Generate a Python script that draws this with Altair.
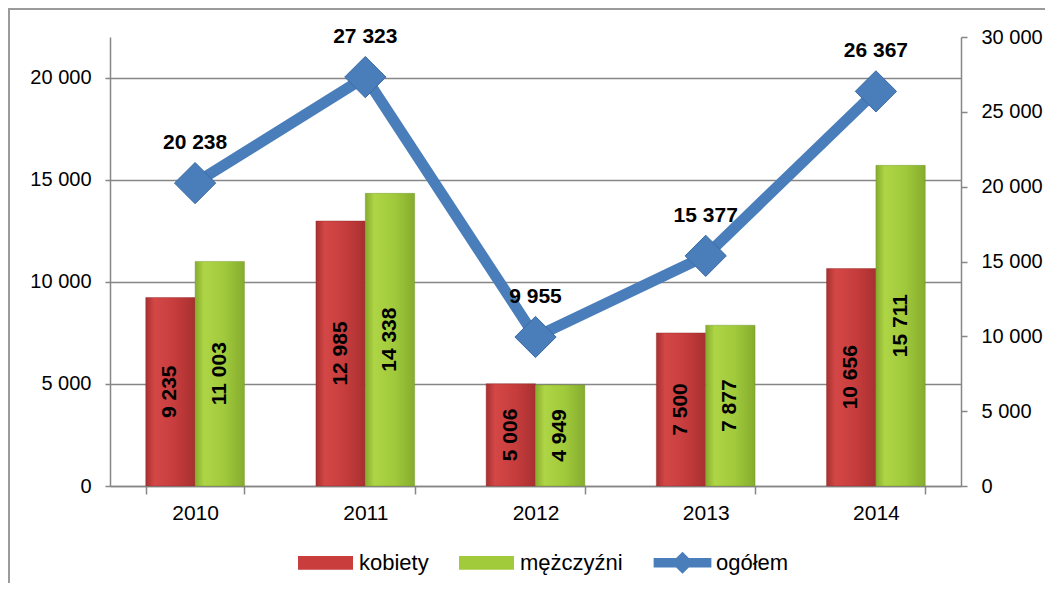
import altair as alt
import pandas as pd

years = ["2010", "2011", "2012", "2013", "2014"]
kobiety = [9235, 12985, 5006, 7500, 10656]
mezczyzni = [11003, 14338, 4949, 7877, 15711]
ogolem = [20238, 27323, 9955, 15377, 26367]
series_names = ["kobiety", "mężczyźni", "ogółem"]
series_colors = ["#C93D3D", "#A2CB3C", "#4A7EBB"]
left_ticks = [0, 5000, 10000, 15000, 20000]
right_ticks = [0, 5000, 10000, 15000, 20000, 25000, 30000]

bars_df = pd.DataFrame(
    [{"year": y, "series": "kobiety", "value": v} for y, v in zip(years, kobiety)]
    + [{"year": y, "series": "mężczyźni", "value": v} for y, v in zip(years, mezczyzni)]
)
bars_df["half"] = bars_df["value"] / 2
tot_df = pd.DataFrame({"year": years, "value": ogolem, "series": "ogółem"})
leg_df = pd.DataFrame({"series": series_names})

FONT = "Liberation Sans"
GRAY = "#868686"

xenc = alt.X("year:N", title=None,
             scale=alt.Scale(paddingInner=0.42, paddingOuter=0.21),
             axis=alt.Axis(labelAngle=0, tickBand="extent", tickSize=8,
                           labelPadding=8, labelFontSize=21))
xoff = alt.XOffset("series:N", scale=alt.Scale(domain=["kobiety", "mężczyźni"], paddingInner=0))
cscale = alt.Scale(domain=series_names, range=series_colors)

yleft_scale = alt.Scale(domain=[0, 22000], nice=False)
yright_scale = alt.Scale(domain=[0, 30000], nice=False)


def grad(edge, mid, light):
    return alt.Gradient(
        gradient="linear", x1=0, x2=1, y1=0, y2=0,
        stops=[alt.GradientStop(color=edge, offset=0),
               alt.GradientStop(color=light, offset=0.18),
               alt.GradientStop(color=mid, offset=0.6),
               alt.GradientStop(color=edge, offset=1)],
    )


red_fill = grad("#A83030", "#C63C3C", "#D44747")
green_fill = grad("#86AC2E", "#A0C93B", "#AED545")

base_bars = alt.Chart(bars_df)
bars_k = base_bars.transform_filter(alt.datum.series == "kobiety").mark_bar(
    fill=red_fill, stroke="#8E2727", strokeWidth=0.8, strokeOpacity=0.5).encode(
    x=xenc,
    xOffset=xoff,
    y=alt.Y("value:Q", scale=yleft_scale, title=None,
            axis=alt.Axis(values=left_ticks, format=",d", grid=True, tickSize=5,
                          labelPadding=14, orient="left")),
)
bars_m = base_bars.transform_filter(alt.datum.series == "mężczyźni").mark_bar(
    fill=green_fill, stroke="#6E8F25", strokeWidth=0.8, strokeOpacity=0.5).encode(
    x=alt.X("year:N"),
    xOffset=xoff,
    y=alt.Y("value:Q", scale=yleft_scale),
)
bar_text = alt.Chart(bars_df).mark_text(angle=270, fontWeight="bold", fontSize=21,
                                        font=FONT, color="black").encode(
    x=alt.X("year:N"),
    xOffset=xoff,
    y=alt.Y("half:Q", scale=yleft_scale),
    text=alt.Text("value:Q", format=",d"),
)
left = alt.layer(bars_k, bars_m, bar_text)

line = alt.Chart(tot_df).mark_line(color="#4A7EBB", strokeWidth=11).encode(
    x=alt.X("year:N"),
    y=alt.Y("value:Q", scale=yright_scale, title=None,
            axis=alt.Axis(values=right_ticks, format=",d", grid=False, tickSize=6,
                          labelPadding=14, orient="right")),
)
pts = alt.Chart(tot_df).mark_point(shape="diamond", filled=True, size=1700, opacity=1,
                                   color="#4A7EBB", stroke="#3B6AA3", strokeWidth=1).encode(
    x=alt.X("year:N"),
    y=alt.Y("value:Q", scale=yright_scale),
)
tot_text = alt.Chart(tot_df).mark_text(dy=-40, fontWeight="bold", fontSize=21,
                                       font=FONT, color="black").encode(
    x=alt.X("year:N"),
    y=alt.Y("value:Q", scale=yright_scale),
    text=alt.Text("value:Q", format=",d"),
)
right = alt.layer(line, pts, tot_text)

bar_path = "M-1,-0.25H1V0.25H-1Z"
line_path = ("M-1.05,-0.17H-0.23L0,-0.4L0.23,-0.17H1.05V0.17H0.23L0,0.4L-0.23,0.17H-1.05Z")
leg_common = dict(title=None, orient="none", legendX=188, legendY=498,
                  direction="horizontal", symbolSize=3025,
                  labelFontSize=22, labelFont=FONT, labelColor="black",
                  labelOffset=6, columnPadding=30, symbolStrokeWidth=0)
legend_layer = alt.Chart(leg_df).mark_point(filled=True, opacity=1).encode(
    color=alt.Color("series:N", scale=cscale, legend=alt.Legend(**leg_common)),
    shape=alt.Shape("series:N", scale=alt.Scale(domain=series_names,
                                                range=[bar_path, bar_path, line_path]),
                    legend=alt.Legend(**leg_common)),
).transform_filter("false")

frame_left = alt.Chart(leg_df).mark_rule(color="#9a9a9a", strokeWidth=1.5).encode(
    x=alt.value(-101), y=alt.value(-28), y2=alt.value(560))
frame_top = alt.Chart(leg_df).mark_rule(color="#9a9a9a", strokeWidth=1.5).encode(
    x=alt.value(-104), x2=alt.value(950), y=alt.value(-28))

chart = alt.layer(left, right, legend_layer, frame_left, frame_top).resolve_scale(
    y="independent"
).properties(
    width=851, height=449,
    autosize=alt.AutoSizeParams(type="none"),
    padding={"left": 102, "top": 29, "right": 84, "bottom": 97},
).configure(
    locale={"number": {"decimal": ",", "thousands": " ", "grouping": [3], "currency": ["", " zł"]}},
).configure_view(stroke=None).configure_axis(
    labelFont=FONT, labelFontSize=20, labelColor="black",
    domainColor=GRAY, tickColor=GRAY, gridColor=GRAY, gridWidth=1.3,
    domainWidth=1.5, tickWidth=1.5,
)

chart.save("out.html", embed_options={"renderer": "svg", "actions": False})
